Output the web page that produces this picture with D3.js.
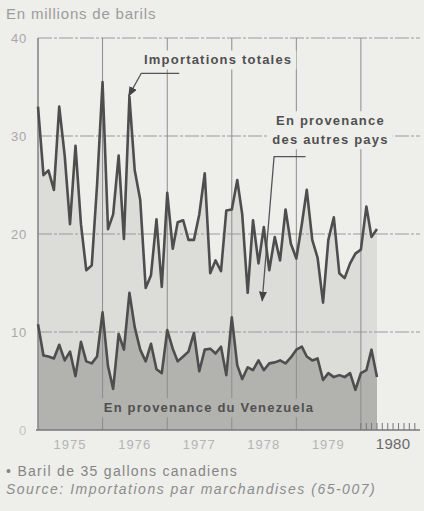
<!DOCTYPE html>
<html>
<head>
<meta charset="utf-8">
<script src="https://cdn.jsdelivr.net/npm/d3@7"></script>
<style>
  body { margin: 0; background: #eeeeeb; }
  svg { display: block; }
</style>
</head>
<body>
<script>
// monthly imports, Jan 1975 - Apr 1980, millions of barrels
var year_labels = ["1975", "1976", "1977", "1978", "1979", "1980"];
var y_ticks = [0, 10, 20, 30, 40];
var total_imports = [
  33, 26, 26.5, 24.5, 33, 28, 21, 29, 21, 16.3, 16.8, 25,
  35.5, 20.5, 22, 28, 19.5, 34, 26.5, 23.5, 14.5, 15.8, 21.5, 14.6,
  24.2, 18.5, 21.2, 21.4, 19.4, 19.4, 22, 26.2, 16, 17.3, 16.2, 22.4,
  22.5, 25.5, 22, 14, 21.4, 17, 20.7, 16.3, 19.7, 17.3, 22.5, 19,
  17.5, 21, 24.5, 19.4, 17.6, 13, 19.4, 21.7, 16, 15.5, 17, 18,
  18.4, 22.8, 19.7, 20.5
];
var venezuela_imports = [
  10.8, 7.6, 7.5, 7.3, 8.7, 7.1, 8, 5.5, 9, 7, 6.8, 7.5,
  12, 6.5, 4.2, 9.8, 8.2, 14, 10.5, 8.2, 7, 8.8, 6.2, 5.8,
  10.2, 8.3, 7, 7.5, 8, 9.9, 6, 8.2, 8.3, 7.8, 8.5, 5.6,
  11.5, 6.6, 5.2, 6.4, 6.1, 7.1, 6.1, 6.8, 6.9, 7.1, 6.8, 7.4,
  8.2, 8.5, 7.5, 7.1, 7.3, 5.1, 5.8, 5.4, 5.6, 5.4, 5.8, 4.1,
  5.8, 6.1, 8.2, 5.4
];

var chart_view = (function(){
  var svg, x, y,
      w = 424,
      h = 511,
      left = 38,
      right = 420,
      top = 38,
      bottom = 430,
      bg = "#eeeeeb",
      light_fill = "#dcdcd8",
      dark_fill = "#b2b2ae",
      line_color = "#4e4e4e",
      data = [];

  function chart(){
    init_data();
    init();
  }

  // month index (may be fractional) -> date
  function month_date(m){
    var whole = Math.floor(m);
    return new Date(1975, whole, 1 + Math.round((m - whole) * 30));
  }

  function init_data(){
    total_imports.forEach(function(v, i){
      data.push({date: new Date(1975, i, 1), total: v, ven: venezuela_imports[i]});
    });
  }

  function boxed_text(g, lines, mx, vy, fill){
    var grp = g.append("g");
    var txt = grp.append("text")
        .attr("x", x(month_date(mx)))
        .attr("y", y(vy))
        .attr("text-anchor", "middle")
        .attr("font-family", "Liberation Sans, Arial, sans-serif")
        .attr("font-weight", "bold")
        .attr("font-size", "13px")
        .attr("letter-spacing", "1.2px")
        .attr("fill", "#505050");
    lines.forEach(function(s, i){
      txt.append("tspan")
          .attr("x", x(month_date(mx)))
          .attr("dy", i === 0 ? 0 : 19)
          .text(s);
    });
    var b = txt.node().getBBox();
    grp.insert("rect", "text")
        .attr("x", b.x - 4)
        .attr("y", b.y - 2)
        .attr("width", b.width + 8)
        .attr("height", b.height + 4)
        .attr("fill", fill);
  }

  function leader(g, pts){
    g.append("path")
        .attr("d", d3.line()(pts.map(function(p){ return [x(month_date(p[0])), y(p[1])]; })))
        .attr("fill", "none")
        .attr("stroke", "#555")
        .attr("stroke-width", 1.3)
        .attr("marker-end", "url(#arrow)");
  }

  function init(){
    svg = d3.select("body").append("svg")
        .attr("width", w)
        .attr("height", h);

    svg.append("defs").append("marker")
        .attr("id", "arrow")
        .attr("viewBox", "0 0 10 8")
        .attr("refX", 9)
        .attr("refY", 4)
        .attr("markerWidth", 10)
        .attr("markerHeight", 8)
        .attr("markerUnits", "userSpaceOnUse")
        .attr("orient", "auto")
        .append("path")
        .attr("d", "M0,0L10,4L0,8z")
        .attr("fill", "#444");

    svg.append("rect").attr("width", w).attr("height", h).attr("fill", bg);

    x = d3.scaleTime()
        .domain([new Date(1975, 0, 1), new Date(1981, 0, 1)])
        .range([left, 425.6]);
    y = d3.scaleLinear().domain([0, 40]).range([bottom, top]);

    var area_total = d3.area()
        .x(function(d){ return x(d.date); })
        .y0(y(0))
        .y1(function(d){ return y(d.total); });
    var area_ven = d3.area()
        .x(function(d){ return x(d.date); })
        .y0(y(0))
        .y1(function(d){ return y(d.ven); });

    svg.append("path").datum(data).attr("d", area_total).attr("fill", light_fill);
    svg.append("path").datum(data).attr("d", area_ven).attr("fill", dark_fill);

    // horizontal grid
    svg.selectAll("line.hgrid")
        .data(y_ticks.filter(function(d){ return d > 0; }))
        .enter()
        .append("line")
        .attr("class", "hgrid")
        .attr("x1", left)
        .attr("x2", right)
        .attr("y1", function(d){ return y(d); })
        .attr("y2", function(d){ return y(d); })
        .attr("stroke", "#9a9a9a")
        .attr("stroke-width", 1)
        .attr("stroke-dasharray", "14,2,3,2");

    // vertical grid at year starts
    var year_starts = year_labels.map(function(s){ return new Date(+s, 0, 1); });
    svg.selectAll("line.vgrid")
        .data(year_starts)
        .enter()
        .append("line")
        .attr("class", "vgrid")
        .attr("x1", function(d){ return x(d); })
        .attr("x2", function(d){ return x(d); })
        .attr("y1", y(40))
        .attr("y2", y(0))
        .attr("stroke", "#8c8c8c")
        .attr("stroke-width", 1);

    // axes
    svg.append("line")
        .attr("x1", left).attr("x2", left)
        .attr("y1", y(40)).attr("y2", y(0))
        .attr("stroke", "#8a8a8a").attr("stroke-width", 1.3);
    svg.append("line")
        .attr("x1", left - 2).attr("x2", right)
        .attr("y1", y(0)).attr("y2", y(0))
        .attr("stroke", "#777").attr("stroke-width", 1.5);

    // monthly ticks in 1980
    svg.selectAll("line.mtick")
        .data(d3.timeMonth.range(new Date(1980, 0, 1), new Date(1980, 11, 1)))
        .enter()
        .append("line")
        .attr("class", "mtick")
        .attr("x1", function(d){ return x(d); })
        .attr("x2", function(d){ return x(d); })
        .attr("y1", y(0))
        .attr("y2", y(0) - 7)
        .attr("stroke", "#777")
        .attr("stroke-width", 1);

    // annotations with boxes that hide the grid
    var ann = svg.append("g");
    boxed_text(ann, ["Importations totales"], 33.5, 37.3, bg);
    boxed_text(ann, ["En provenance", "des autres pays"], 54.4, 31.1, bg);
    boxed_text(ann, ["En provenance du Venezuela"], 31.8, 1.8, dark_fill);

    leader(ann, [[26.3, 36.4], [19.2, 36.4], [16.9, 34.1]]);
    leader(ann, [[49.7, 27.9], [43.9, 27.9], [41.7, 13.2]]);

    // series lines
    var line_total = d3.line()
        .x(function(d){ return x(d.date); })
        .y(function(d){ return y(d.total); });
    var line_ven = d3.line()
        .x(function(d){ return x(d.date); })
        .y(function(d){ return y(d.ven); });

    [line_total, line_ven].forEach(function(l){
      svg.append("path")
          .datum(data)
          .attr("d", l)
          .attr("fill", "none")
          .attr("stroke", line_color)
          .attr("stroke-width", 2.6)
          .attr("stroke-linejoin", "round");
    });

    // y labels
    svg.selectAll("text.ylab")
        .data(y_ticks)
        .enter()
        .append("text")
        .attr("class", "ylab")
        .attr("x", 27)
        .attr("y", function(d){ return y(d) + 5; })
        .attr("text-anchor", "end")
        .attr("font-family", "Liberation Sans, Arial, sans-serif")
        .attr("font-size", "13px")
        .attr("letter-spacing", "0.8px")
        .attr("fill", function(d){ return d === 0 ? "#c4c4c4" : "#a8a8a8"; })
        .text(function(d){ return d; });

    // year labels, centred in each year
    svg.selectAll("text.xlab")
        .data(year_labels)
        .enter()
        .append("text")
        .attr("class", "xlab")
        .attr("x", function(d){ return x(new Date(+d, 6, 1)); })
        .attr("y", 449)
        .attr("text-anchor", "middle")
        .attr("font-family", "Liberation Sans, Arial, sans-serif")
        .attr("font-size", function(d){ return d === "1980" ? "15px" : "13px"; })
        .attr("letter-spacing", function(d){ return d === "1980" ? "0.3px" : "1px"; })
        .attr("fill", function(d){ return d === "1980" ? "#6a6a6a" : "#b4b4b4"; })
        .text(function(d){ return d; });

    svg.append("text")
        .attr("x", 6)
        .attr("y", 19)
        .attr("font-family", "Liberation Sans, Arial, sans-serif")
        .attr("font-size", "15px")
        .attr("letter-spacing", "0.8px")
        .attr("fill", "#9c9c9c")
        .text("En millions de barils");

    svg.append("text")
        .attr("x", 6)
        .attr("y", 476)
        .attr("font-family", "Liberation Sans, Arial, sans-serif")
        .attr("font-size", "14px")
        .attr("letter-spacing", "1.3px")
        .attr("fill", "#858585")
        .text("\u2022 Baril de 35 gallons canadiens");

    svg.append("text")
        .attr("x", 6)
        .attr("y", 494)
        .attr("font-family", "Liberation Sans, Arial, sans-serif")
        .attr("font-style", "italic")
        .attr("font-size", "14px")
        .attr("letter-spacing", "1.5px")
        .attr("fill", "#8c8c8c")
        .text("Source: Importations par marchandises (65-007)");
  }

  return chart;
})();

chart_view();
</script>
</body>
</html>
